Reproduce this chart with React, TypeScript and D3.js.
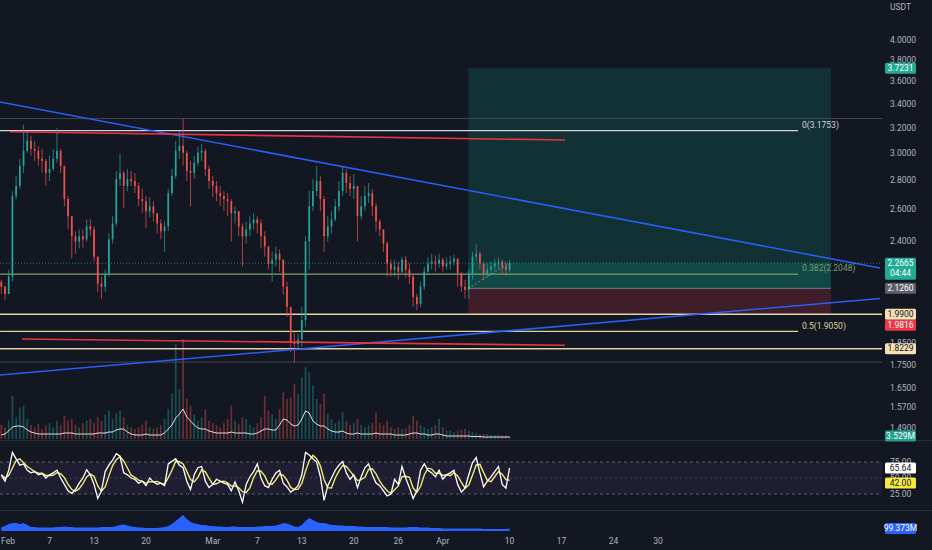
import * as d3 from 'd3';
import * as React from 'react';

const WIDTH = 932;
const HEIGHT = 550;
const PLOT_RIGHT = 882;

const BG = '#131722';
const TEXT = '#b2b5be';
const UP = '#26a69a';
const DOWN = '#ef5350';
const FONT = 'Roboto, "Noto Sans", sans-serif';

// 12h bars, first bar opens Jan 31 12:00 UTC, last bar Apr 10 00:00 UTC
const firstBar = Date.UTC(2023, 0, 31, 12);
const barMs = 12 * 3600 * 1000;
const firstOpen = 2.16;

const closes = [
    2.135, 2.096, 2.190, 2.689, 2.759, 2.904, 3.017, 3.095, 3.032, 3.017,
    2.956, 2.941, 2.852, 2.881, 2.956, 3.017, 2.904, 2.668, 2.554, 2.427,
    2.395, 2.427, 2.408, 2.489, 2.470, 2.304, 2.151, 2.135, 2.207, 2.408,
    2.508, 2.808, 2.852, 2.759, 2.808, 2.794, 2.759, 2.668, 2.654, 2.587,
    2.620, 2.574, 2.508, 2.458, 2.489, 2.709, 2.830, 3.017, 3.056, 3.002,
    2.866, 2.852, 2.926, 3.002, 3.017, 2.881, 2.794, 2.759, 2.709, 2.689,
    2.668, 2.654, 2.574, 2.587, 2.489, 2.427, 2.470, 2.508, 2.534, 2.508,
    2.427, 2.365, 2.264, 2.287, 2.322, 2.287, 2.135, 2.028, 1.854, 1.845,
    1.867, 1.961, 2.395, 2.620, 2.723, 2.794, 2.668, 2.427, 2.489, 2.534,
    2.620, 2.723, 2.852, 2.780, 2.738, 2.759, 2.554, 2.620, 2.689, 2.709,
    2.620, 2.521, 2.470, 2.383, 2.264, 2.230, 2.247, 2.218, 2.287, 2.230,
    2.190, 2.080, 2.043, 2.135, 2.218, 2.264, 2.276, 2.264, 2.287, 2.247,
    2.264, 2.276, 2.293, 2.207, 2.135, 2.118, 2.207, 2.304, 2.322, 2.264,
    2.207, 2.230, 2.247, 2.264, 2.276, 2.247, 2.230, 2.2665,
];

const highs = [
    2.173, 2.140, 2.230, 2.723, 2.830, 2.956, 3.225, 3.175, 3.135, 3.095,
    3.056, 3.032, 2.956, 2.979, 3.032, 3.200, 3.032, 2.904, 2.689, 2.554,
    2.458, 2.470, 2.470, 2.534, 2.534, 2.489, 2.304, 2.190, 2.230, 2.445,
    2.554, 2.866, 2.994, 2.866, 2.881, 2.866, 2.852, 2.780, 2.738, 2.689,
    2.682, 2.654, 2.574, 2.534, 2.521, 2.738, 2.881, 3.095, 3.175, 3.275,
    3.017, 2.941, 2.979, 3.048, 3.071, 3.032, 2.904, 2.830, 2.794, 2.759,
    2.723, 2.709, 2.668, 2.620, 2.587, 2.508, 2.521, 2.554, 2.574, 2.554,
    2.534, 2.458, 2.365, 2.334, 2.365, 2.347, 2.287, 2.162, 2.028, 1.905,
    1.895, 2.028, 2.427, 2.723, 2.808, 2.904, 2.830, 2.689, 2.554, 2.587,
    2.668, 2.794, 2.904, 2.881, 2.830, 2.844, 2.759, 2.689, 2.759, 2.780,
    2.738, 2.641, 2.534, 2.470, 2.395, 2.287, 2.287, 2.276, 2.304, 2.310,
    2.264, 2.207, 2.096, 2.162, 2.247, 2.299, 2.322, 2.310, 2.322, 2.299,
    2.299, 2.310, 2.316, 2.287, 2.218, 2.173, 2.230, 2.334, 2.377, 2.334,
    2.276, 2.264, 2.276, 2.293, 2.299, 2.287, 2.276, 2.287,
];

const lows = [
    2.096, 2.065, 2.107, 2.162, 2.668, 2.738, 2.852, 3.002, 2.979, 2.941,
    2.904, 2.852, 2.759, 2.794, 2.866, 2.926, 2.852, 2.620, 2.470, 2.293,
    2.322, 2.353, 2.359, 2.395, 2.427, 2.276, 2.107, 2.070, 2.107, 2.190,
    2.383, 2.489, 2.759, 2.607, 2.723, 2.759, 2.709, 2.620, 2.574, 2.477,
    2.548, 2.521, 2.445, 2.408, 2.334, 2.458, 2.689, 2.808, 2.956, 2.904,
    2.794, 2.620, 2.808, 2.904, 2.941, 2.830, 2.738, 2.682, 2.654, 2.620,
    2.587, 2.554, 2.395, 2.508, 2.427, 2.247, 2.383, 2.427, 2.470, 2.445,
    2.353, 2.304, 2.230, 2.162, 2.247, 2.218, 2.091, 1.977, 1.807, 1.761,
    1.826, 1.831, 1.927, 2.230, 2.587, 2.689, 2.587, 2.334, 2.395, 2.445,
    2.521, 2.587, 2.689, 2.709, 2.689, 2.668, 2.395, 2.534, 2.587, 2.641,
    2.554, 2.458, 2.427, 2.334, 2.190, 2.190, 2.190, 2.173, 2.207, 2.185,
    2.151, 2.028, 2.012, 2.028, 2.118, 2.207, 2.230, 2.218, 2.241, 2.218,
    2.230, 2.230, 2.253, 2.135, 2.107, 2.070, 2.070, 2.173, 2.276, 2.230,
    2.173, 2.185, 2.207, 2.218, 2.230, 2.207, 2.196, 2.218,
];

// volume, millions
const volumes = [
    17, 14, 22, 52, 26, 38, 40, 24, 17, 14,
    18, 12, 16, 19, 14, 22, 17, 28, 22, 24,
    17, 14, 19, 22, 24, 19, 26, 22, 29, 34,
    24, 31, 34, 26, 17, 14, 12, 14, 17, 22,
    14, 12, 14, 17, 24, 36, 54, 114, 60, 120,
    48, 40, 29, 22, 26, 36, 22, 19, 17, 14,
    19, 24, 40, 22, 18, 26, 24, 17, 14, 19,
    26, 52, 34, 30, 24, 36, 56, 48, 50, 66,
    54, 74, 86, 80, 64, 48, 42, 54, 30, 24,
    19, 22, 32, 22, 17, 19, 24, 17, 14, 17,
    19, 32, 19, 17, 22, 14, 12, 14, 12, 13,
    17, 28, 22, 17, 14, 12, 14, 17, 24, 14,
    10, 10, 8, 10, 11, 12, 10, 8, 7, 6,
    6, 6, 5, 5, 5, 4, 4, 3.529,
];

// volume moving average, millions
const volumeMa = [
    4.8, 6, 9.6, 14.4, 15.6, 15.6, 14.4, 10.8, 8.4, 7.2,
    6, 6, 6, 6, 6, 6, 6, 7.2, 7.2, 7.2,
    6, 6, 6, 6, 6, 6, 7.2, 7.2, 7.2, 8.4,
    8.4, 10.8, 12, 12, 8.4, 6, 4.8, 4.8, 4.8, 6,
    4.8, 4.8, 4.8, 4.8, 7.2, 12, 16.8, 25.2, 30, 36,
    26.4, 21.6, 16.8, 13.2, 12, 12, 9.6, 8.4, 7.2, 7.2,
    7.2, 7.2, 8.4, 7.2, 7.2, 7.2, 7.2, 6, 6, 7.2,
    9.6, 12, 12, 10.8, 10.8, 16.8, 24, 22.8, 18, 15.6,
    16.8, 24, 33.6, 31.2, 21.6, 18, 15.6, 15.6, 12, 9.6,
    8.4, 8.4, 9.6, 7.2, 6, 6, 7.2, 6, 6, 6,
    6, 7.2, 6, 6, 6, 6, 4.8, 4.8, 4.8, 4.8,
    6, 7.2, 7.2, 6, 6, 4.8, 4.8, 6, 6, 4.8,
    3.6, 3.6, 3.6, 3.6, 3.6, 3.6, 3.6, 3, 3, 3,
    2.4, 2.4, 2.4, 2.4, 2.4, 2.4, 2.4, 2.4,
];

const rsiValues = [
    55, 45, 62, 90, 80, 70, 72, 62, 58, 60,
    55, 57, 50, 55, 58, 62, 50, 40, 30, 26,
    32, 42, 50, 63, 55, 40, 18, 30, 60, 70,
    78, 88, 84, 58, 55, 50, 48, 42, 45, 38,
    50, 44, 40, 42, 38, 72, 76, 80, 70, 66,
    45, 32, 55, 66, 68, 45, 35, 40, 48, 45,
    42, 40, 30, 44, 30, 12, 40, 52, 60, 72,
    50, 38, 35, 48, 58, 62, 42, 36, 28, 32,
    38, 55, 90, 86, 80, 75, 52, 15, 38, 50,
    62, 70, 76, 58, 48, 55, 35, 52, 66, 72,
    55, 42, 38, 30, 22, 25, 48, 40, 68, 50,
    35, 18, 30, 62, 72, 62, 58, 52, 62, 48,
    55, 58, 62, 40, 28, 34, 55, 74, 82, 58,
    36, 45, 52, 60, 68, 40, 34, 65.64,
];
const rsiMaLast = 42.0;

// lower pane indicator, millions
const flowValues = [
    160, 200, 280, 320, 320, 280, 320, 240, 160, 160,
    140, 140, 140, 140, 140, 160, 160, 180, 160, 160,
    140, 140, 140, 140, 140, 140, 140, 160, 160, 160,
    160, 200, 240, 260, 220, 180, 160, 140, 140, 120,
    120, 120, 120, 140, 160, 200, 280, 400, 520, 640,
    480, 360, 300, 280, 240, 240, 200, 200, 180, 180,
    160, 160, 180, 180, 160, 160, 160, 160, 160, 180,
    180, 200, 200, 200, 220, 260, 320, 300, 240, 180,
    160, 240, 400, 520, 440, 360, 320, 320, 280, 240,
    240, 220, 220, 200, 200, 200, 180, 180, 160, 160,
    160, 160, 160, 160, 160, 140, 140, 140, 140, 140,
    160, 160, 160, 140, 140, 140, 120, 120, 120, 100,
    100, 100, 100, 100, 100, 100, 100, 100, 100, 100,
    80, 80, 80, 80, 80, 80, 80, 99.373,
];

// ticks hidden under the badges are left out
const priceTicks = [4, 3.8, 3.6, 3.4, 3.2, 3.0, 2.8, 2.6, 2.4, 1.85, 1.75, 1.65, 1.57, 1.49];
const rsiLevels = [75, 50, 25];

const timeTicks: [string, string][] = [
    ['2023-02-01', 'Feb'], ['2023-02-07', '7'], ['2023-02-13', '13'], ['2023-02-20', '20'],
    ['2023-03-01', 'Mar'], ['2023-03-07', '7'], ['2023-03-13', '13'], ['2023-03-20', '20'],
    ['2023-03-26', '26'], ['2023-04-01', 'Apr'], ['2023-04-10', '10'], ['2023-04-17', '17'],
    ['2023-04-24', '24'], ['2023-04-30', '30'],
];

// drawings: [time, price]
const trendLines = [
    { a: ['2023-01-31T08:00Z', 3.416], b: ['2023-05-29T22:00Z', 2.239], color: '#2962ff' },
    { a: ['2023-01-31T08:00Z', 1.705], b: ['2023-05-29T22:00Z', 2.072], color: '#2962ff' },
    { a: ['2023-02-01T16:00Z', 3.167], b: ['2023-04-17T11:00Z', 3.101], color: '#f23645' },
    { a: ['2023-02-03T07:00Z', 1.869], b: ['2023-04-17T11:00Z', 1.839], color: '#f23645' },
];

const horizontalLines = [
    { price: 3.275, color: '#434651', width: 1 },
    { price: 1.99, color: '#e3d2aa', width: 1.5 },
    { price: 1.8229, color: '#e3d2aa', width: 1.5 },
    { price: 1.762, color: '#434651', width: 1 },
];

const fibLevels = [
    { level: '0', price: 3.1753, color: '#d1d4dc' },
    { level: '0.382', price: 2.2048, color: '#7e9f72' },
    { level: '0.5', price: 1.905, color: '#ded595' },
];
const fibFrom = '2023-01-31T08:00Z';
const fibTo = '2023-05-18T21:00Z';

const position = { from: '2023-04-04T10:00Z', to: '2023-05-23T07:00Z', target: 3.7231, entry: 2.126, stop: 1.99 };

const priceBadges = [
    { value: 3.7231, text: '3.7231', fill: '#22ab94', color: '#ffffff' },
    { value: 2.126, text: '2.1260', fill: '#5d606b', color: '#ffffff' },
    { value: 1.99, text: '1.9900', fill: '#f7dfb5', color: '#131722' },
    { value: 1.9816, text: '1.9816', fill: '#f23645', color: '#ffffff' },
    { value: 1.8229, text: '1.8229', fill: '#f7dfb5', color: '#131722' },
];

type Sel = d3.Selection<SVGGElement, unknown, null, undefined>;

/**
 * Draw the whole chart into the svg
 */
function draw(root: SVGSVGElement) {
    const svg = d3.select(root);
    svg.selectAll('*').remove();
    const g: Sel = svg.append('g');

    const x = d3.scaleUtc()
        .domain([new Date(Date.UTC(2023, 1, 1)), new Date(Date.UTC(2023, 3, 10))])
        .range([5, 509.6]);
    const y = d3.scaleLog().domain([4, 1.49]).range([40, 428]);
    const yVol = d3.scaleLinear().domain([0, 120]).range([439, 339]);
    const yRsi = d3.scaleLinear().domain([0, 100]).range([510, 446]);
    const yFlow = d3.scaleLinear().domain([0, 700]).range([531, 513.5]);

    const t = (s: string) => new Date(s);
    const barTime = (i: number) => new Date(firstBar + i * barMs);

    const bars = closes.map((c, i) => {
        const o = i === 0 ? firstOpen : closes[i - 1];
        return {
            t: barTime(i), o, c,
            h: Math.max(highs[i], o, c),
            l: Math.min(lows[i], o, c),
            v: volumes[i],
        };
    });
    const last = bars[bars.length - 1];

    const defs = svg.append('defs');
    defs.append('clipPath').attr('id', 'main-clip')
        .append('rect').attr('x', 0).attr('y', 0).attr('width', PLOT_RIGHT).attr('height', 440);

    const main = g.append('g').attr('clip-path', 'url(#main-clip)');

    // long position box
    const px0 = x(t(position.from));
    const px1 = x(t(position.to));
    main.append('rect')
        .attr('x', px0).attr('width', px1 - px0)
        .attr('y', y(position.target)).attr('height', y(position.entry) - y(position.target))
        .attr('fill', 'rgba(8,153,129,0.2)');
    main.append('rect')
        .attr('x', px0).attr('width', px1 - px0)
        .attr('y', y(last.c)).attr('height', y(position.entry) - y(last.c))
        .attr('fill', 'rgba(8,153,129,0.22)');
    main.append('rect')
        .attr('x', px0).attr('width', px1 - px0)
        .attr('y', y(position.entry)).attr('height', y(position.stop) - y(position.entry))
        .attr('fill', 'rgba(242,54,69,0.2)');
    main.append('line')
        .attr('x1', px0).attr('x2', px1)
        .attr('y1', y(position.entry)).attr('y2', y(position.entry))
        .attr('stroke', '#787b86').attr('stroke-width', 1);

    // volume
    const barW = 1.7;
    main.append('g').selectAll('rect').data(bars).join('rect')
        .attr('x', d => x(d.t) - barW / 2)
        .attr('width', barW)
        .attr('y', d => yVol(d.v))
        .attr('height', d => yVol(0) - yVol(d.v))
        .attr('fill', d => (d.c >= d.o ? 'rgba(38,166,154,0.4)' : 'rgba(239,83,80,0.4)'));
    main.append('path')
        .datum(volumeMa)
        .attr('d', d3.line<number>().x((_, i) => x(barTime(i))).y(v => yVol(v)))
        .attr('fill', 'none').attr('stroke', 'rgba(255,255,255,0.85)').attr('stroke-width', 1);

    // horizontal rays
    horizontalLines.forEach(hl => {
        main.append('line')
            .attr('x1', 0).attr('x2', PLOT_RIGHT)
            .attr('y1', y(hl.price)).attr('y2', y(hl.price))
            .attr('stroke', hl.color).attr('stroke-width', hl.width);
    });

    // fib levels
    fibLevels.forEach(f => {
        main.append('line')
            .attr('x1', x(t(fibFrom))).attr('x2', x(t(fibTo)))
            .attr('y1', y(f.price)).attr('y2', y(f.price))
            .attr('stroke', f.color).attr('stroke-width', 1.2);
    });

    // candles
    const candles = main.append('g');
    candles.selectAll('line').data(bars).join('line')
        .attr('x1', d => x(d.t)).attr('x2', d => x(d.t))
        .attr('y1', d => y(d.h)).attr('y2', d => y(d.l))
        .attr('stroke', d => (d.c >= d.o ? UP : DOWN)).attr('stroke-width', 0.7);
    candles.selectAll('rect').data(bars).join('rect')
        .attr('x', d => x(d.t) - barW / 2)
        .attr('width', barW)
        .attr('y', d => y(Math.max(d.o, d.c)))
        .attr('height', d => Math.max(0.8, Math.abs(y(d.o) - y(d.c))))
        .attr('fill', d => (d.c >= d.o ? UP : DOWN));

    // position dotted path
    main.append('line')
        .attr('x1', px0).attr('y1', y(position.entry))
        .attr('x2', x(last.t)).attr('y2', y(last.c))
        .attr('stroke', 'rgba(209,212,220,0.6)').attr('stroke-dasharray', '1.5,2.5');

    // trend lines
    trendLines.forEach(tl => {
        main.append('line')
            .attr('x1', x(t(tl.a[0] as string))).attr('y1', y(tl.a[1] as number))
            .attr('x2', x(t(tl.b[0] as string))).attr('y2', y(tl.b[1] as number))
            .attr('stroke', tl.color).attr('stroke-width', 1.6).attr('opacity', 0.95);
    });

    // last price line
    main.append('line')
        .attr('x1', 0).attr('x2', PLOT_RIGHT)
        .attr('y1', y(last.c)).attr('y2', y(last.c))
        .attr('stroke', '#22ab94').attr('stroke-width', 1).attr('stroke-dasharray', '1,2').attr('opacity', 0.7);

    // fib labels
    fibLevels.forEach(f => {
        g.append('text')
            .attr('x', x(t(fibTo)) + 4).attr('y', y(f.price) - 5)
            .attr('font-size', 8.5).attr('font-family', FONT)
            .attr('fill', f.color).attr('dominant-baseline', 'middle')
            .text(`${f.level}(${f.price.toFixed(4)})`);
    });

    // pane separators
    [440.5, 510.5].forEach(sy => {
        g.append('line').attr('x1', 0).attr('x2', WIDTH).attr('y1', sy).attr('y2', sy)
            .attr('stroke', '#2a2e39').attr('stroke-width', 1);
    });

    // RSI pane
    g.append('rect')
        .attr('x', 0).attr('width', PLOT_RIGHT)
        .attr('y', yRsi(75)).attr('height', yRsi(25) - yRsi(75))
        .attr('fill', 'rgba(126,87,194,0.1)');
    rsiLevels.forEach(lv => {
        g.append('line').attr('x1', 0).attr('x2', PLOT_RIGHT)
            .attr('y1', yRsi(lv)).attr('y2', yRsi(lv))
            .attr('stroke', '#787b86').attr('stroke-width', 0.8)
            .attr('stroke-dasharray', lv === 50 ? '2,3' : '3,3').attr('opacity', lv === 50 ? 0.5 : 0.9);
    });
    const rsiMa = rsiValues.map((_, i) => d3.mean(rsiValues.slice(Math.max(0, i - 2), i + 1)) as number);
    const rsiLine = d3.line<number>().x((_, i) => x(barTime(i))).y(v => yRsi(v));
    g.append('path').datum(rsiMa).attr('d', rsiLine)
        .attr('fill', 'none').attr('stroke', '#f5ea6a').attr('stroke-width', 1.4);
    g.append('path').datum(rsiValues).attr('d', rsiLine)
        .attr('fill', 'none').attr('stroke', '#ffffff').attr('stroke-width', 1.3);

    // lower pane area
    g.append('path')
        .datum(flowValues)
        .attr('d', d3.area<number>()
            .x((_, i) => x(barTime(i)))
            .y0(yFlow(0))
            .y1(v => yFlow(v)))
        .attr('fill', '#2962ff');

    // price axis
    const axisX = 890;
    g.append('text').attr('x', axisX).attr('y', 10)
        .attr('font-size', 8.5).attr('font-family', FONT).attr('fill', TEXT).text('USDT');
    g.append('g').selectAll('text').data(priceTicks).join('text')
        .attr('x', axisX).attr('y', d => y(d))
        .attr('dy', '0.35em')
        .attr('font-size', 8.5).attr('font-family', FONT).attr('fill', TEXT)
        .text(d => d.toFixed(4));
    g.append('g').selectAll('text').data(rsiLevels).join('text')
        .attr('x', axisX).attr('y', d => yRsi(d))
        .attr('dy', '0.35em')
        .attr('font-size', 8.5).attr('font-family', FONT).attr('fill', TEXT)
        .text(d => d.toFixed(2));

    // time axis
    g.append('g').selectAll('text').data(timeTicks).join('text')
        .attr('x', d => Math.max(8, x(new Date(`${d[0]}T00:00Z`))))
        .attr('y', 542)
        .attr('text-anchor', 'middle').attr('dominant-baseline', 'middle')
        .attr('font-size', 8.5).attr('font-family', FONT).attr('fill', TEXT)
        .text(d => d[1]);

    // axis badges
    const badge = (cy: number, lines: string[], fill: string, color: string) => {
        const h = 11 * lines.length;
        const top = cy - 5.5;
        g.append('rect')
            .attr('x', 885).attr('y', top).attr('width', 31).attr('height', h)
            .attr('rx', 1.5).attr('fill', fill);
        lines.forEach((s, k) => {
            g.append('text')
                .attr('x', 900.5).attr('y', top + 5.8 + k * 10)
                .attr('text-anchor', 'middle').attr('dominant-baseline', 'middle')
                .attr('font-size', 8.5).attr('font-family', FONT).attr('fill', color)
                .text(s);
        });
    };

    let prevY = -Infinity;
    priceBadges
        .map(b => ({ ...b, cy: y(b.value) }))
        .sort((a, b) => a.cy - b.cy)
        .forEach(b => {
            const cy = Math.max(b.cy, prevY + 11);
            prevY = cy;
            badge(cy, [b.text], b.fill, b.color);
        });
    badge(y(last.c), [last.c.toFixed(4), '04:44'], '#22ab94', '#ffffff');
    badge(yVol(last.v), [`${last.v.toFixed(3)}M`], '#229f8d', '#ffffff');
    const rsiLast = rsiValues[rsiValues.length - 1];
    badge(yRsi(rsiLast), [rsiLast.toFixed(2)], '#ffffff', '#131722');
    badge(yRsi(rsiMaLast), [rsiMaLast.toFixed(2)], '#f5ea3c', '#131722');
    const flowLast = flowValues[flowValues.length - 1];
    badge(yFlow(flowLast), [`${flowLast.toFixed(3)}M`], '#2962ff', '#ffffff');
}

export default function App() {
    const ref = React.useRef<SVGSVGElement | null>(null);

    React.useEffect(() => {
        document.body.style.margin = '0';
        document.body.style.background = BG;
        if (ref.current) draw(ref.current);
    }, []);

    return (
        <svg
            ref={ref}
            width={WIDTH}
            height={HEIGHT}
            style={{ display: 'block', background: BG }}
        />
    );
}
